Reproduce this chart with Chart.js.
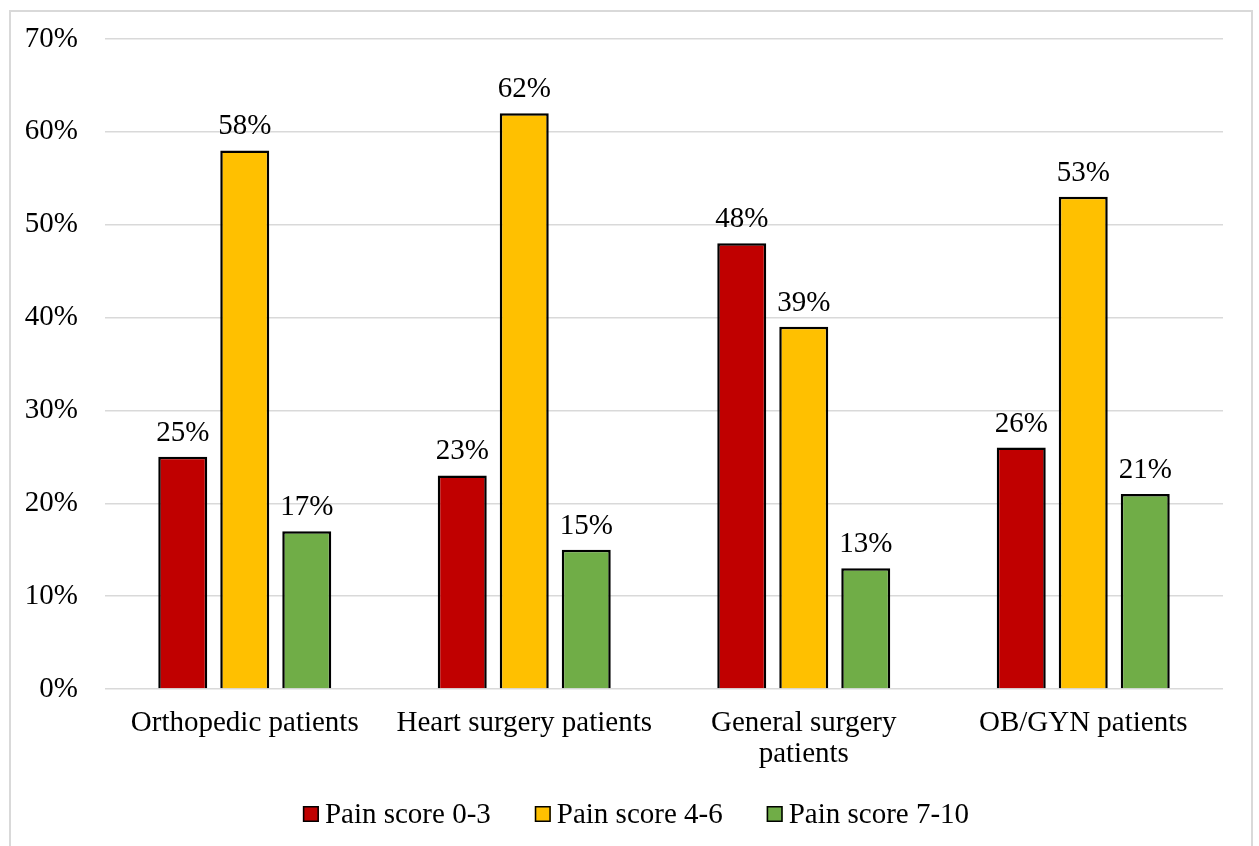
<!DOCTYPE html>
<html>
<head>
<meta charset="utf-8">
<script src="https://cdn.jsdelivr.net/npm/chart.js@4/dist/chart.umd.min.js"></script>
<style>
  html, body { margin: 0; padding: 0; background: #ffffff; }
  #wrap { width: 1259px; height: 846px; position: relative; }
</style>
</head>
<body>
<div id="wrap"><canvas id="c" width="1259" height="846"></canvas></div>
<script>
const categories = [["Orthopedic patients"], ["Heart surgery patients"], ["General surgery", "patients"], ["OB/GYN patients"]];
const seriesNames = ["Pain score 0-3", "Pain score 4-6", "Pain score 7-10"];
const painLow = [25, 23, 48, 26];
const painMid = [58, 62, 39, 53];
const painHigh = [17, 15, 13, 21];
const yTicks = [0, 10, 20, 30, 40, 50, 60, 70];
const colors = ["#C00000", "#FFC000", "#70AD47"];

const FONT = "'Liberation Serif', 'Times New Roman', serif";
const FS = 29;

const frame = {
  id: 'frame',
  beforeDraw(chart) {
    const ctx = chart.ctx;
    ctx.save();
    ctx.fillStyle = '#ffffff';
    ctx.fillRect(0, 0, chart.width, chart.height);
    ctx.strokeStyle = '#d9d9d9';
    ctx.lineWidth = 2;
    ctx.strokeRect(10, 11, 1242, 860);
    ctx.restore();
  }
};

const valueLabels = {
  id: 'valueLabels',
  afterDatasetsDraw(chart) {
    const ctx = chart.ctx;
    ctx.save();
    ctx.font = FS + "px " + FONT;
    ctx.fillStyle = '#000000';
    ctx.textAlign = 'center';
    ctx.textBaseline = 'alphabetic';
    chart.data.datasets.forEach((ds, i) => {
      const meta = chart.getDatasetMeta(i);
      meta.data.forEach((bar, j) => {
        ctx.fillText(ds.data[j] + '%', bar.x, bar.y - 16);
      });
    });
    ctx.restore();
  }
};

const customLegend = {
  id: 'customLegend',
  afterDraw(chart) {
    const ctx = chart.ctx;
    ctx.save();
    ctx.font = FS + "px " + FONT;
    const box = 16, gapText = 6, gapItem = 44;
    const items = chart.data.datasets.map(ds => ({ text: ds.label, color: ds.backgroundColor, w: ctx.measureText(ds.label).width }));
    const total = items.reduce((s, it) => s + box + gapText + it.w, 0) + gapItem * (items.length - 1);
    let x = 636 - total / 2;
    const cy = 814;
    ctx.textBaseline = 'middle';
    ctx.textAlign = 'left';
    items.forEach(it => {
      ctx.fillStyle = it.color;
      ctx.fillRect(x, cy - box / 2, box, box);
      ctx.strokeStyle = '#000000';
      ctx.lineWidth = 1.5;
      ctx.strokeRect(x + 0.75, cy - box / 2 + 0.75, box - 1.5, box - 1.5);
      ctx.fillStyle = '#000000';
      ctx.fillText(it.text, x + box + gapText, cy + 1);
      x += box + gapText + it.w + gapItem;
    });
    ctx.restore();
  }
};

const mk = (label, data, color) => ({
  label, data,
  backgroundColor: color,
  borderColor: '#000000',
  borderWidth: 2.5,
  categoryPercentage: 0.6655,
  barPercentage: 0.79
});

new Chart(document.getElementById('c'), {
  type: 'bar',
  data: {
    labels: categories,
    datasets: [
      mk(seriesNames[0], painLow, colors[0]),
      mk(seriesNames[1], painMid, colors[1]),
      mk(seriesNames[2], painHigh, colors[2])
    ]
  },
  options: {
    responsive: false,
    animation: false,
    devicePixelRatio: 1,
    layout: { padding: { left: 10, right: 36, top: 39, bottom: 56 } },
    plugins: {
      tooltip: { enabled: false },
      legend: { display: false }
    },
    scales: {
      x: {
        grid: { display: false, drawTicks: false },
        border: { display: false },
        ticks: {
          color: '#000000',
          font: { family: FONT, size: FS, lineHeight: 1.07 },
          padding: 19,
          maxRotation: 0,
          autoSkip: false
        },
        afterFit(scale) { scale.height = 101; }
      },
      y: {
        min: 0, max: 70,
        grid: { color: '#d9d9d9', lineWidth: 1.5, drawTicks: false },
        border: { display: false },
        afterBuildTicks(scale) { scale.ticks = yTicks.map(v => ({ value: v })); },
        ticks: {
          color: '#000000',
          font: { family: FONT, size: FS },
          padding: 27,
          callback: v => v + '%'
        },
        afterFit(scale) { scale.width = 95; scale.paddingTop = 0; scale.paddingBottom = 0; }
      }
    }
  },
  plugins: [frame, valueLabels, customLegend]
});
</script>
</body>
</html>
